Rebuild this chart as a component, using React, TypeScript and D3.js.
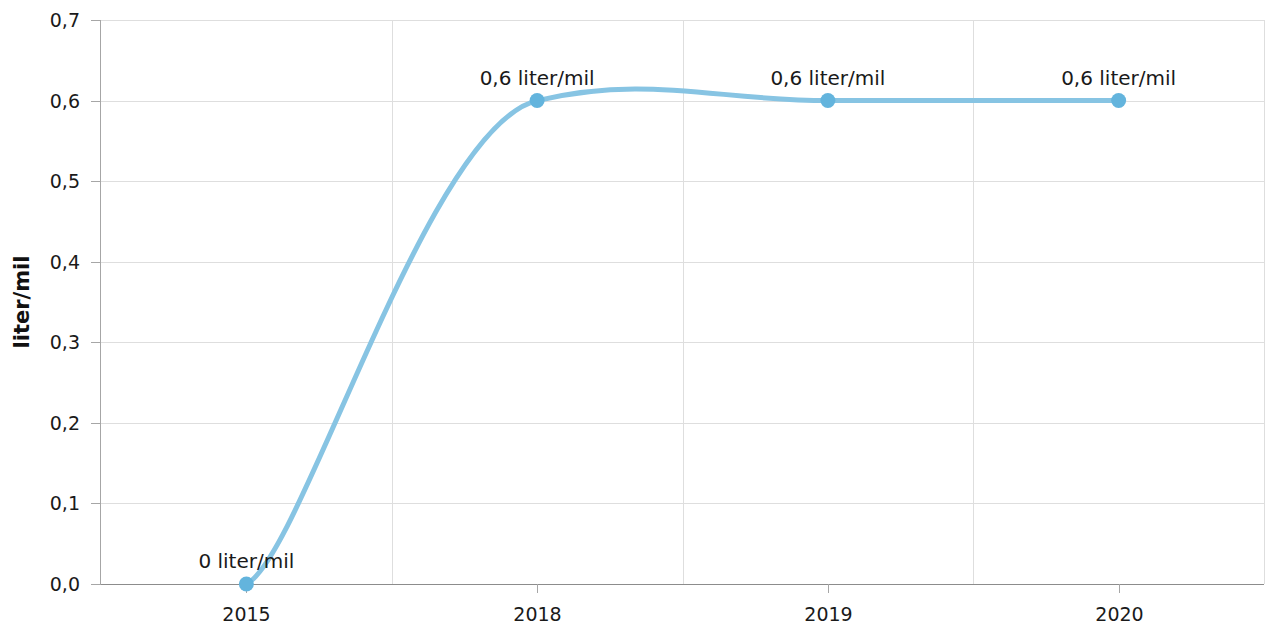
import { useMemo } from 'react'
import * as d3 from 'd3'

// chart data
const years = ['2015', '2018', '2019', '2020']
const values = [0, 0.6, 0.6, 0.6]
const yTicks = [0, 0.1, 0.2, 0.3, 0.4, 0.5, 0.6, 0.7]
const unit = 'liter/mil'

const W = 1267
const H = 626
const margin = { top: 20, right: 3, bottom: 42, left: 101 }

const fmt = (v: number, digits: number) => v.toFixed(digits).replace('.', ',')

// smoothing with separate x / y tension (spline that slightly overshoots)
function curveTensionXY(cx: number, cy: number) {
  return (context: any) => {
    let pts: [number, number][] = []
    return {
      areaStart() {},
      areaEnd() {},
      lineStart() { pts = [] },
      point(x: number, y: number) { pts.push([+x, +y]) },
      lineEnd() {
        if (!pts.length) return
        context.moveTo(pts[0][0], pts[0][1])
        for (let i = 0; i < pts.length - 1; i++) {
          const p0 = pts[Math.max(0, i - 1)]
          const p1 = pts[i]
          const p2 = pts[i + 1]
          const p3 = pts[Math.min(pts.length - 1, i + 2)]
          context.bezierCurveTo(
            p1[0] + cx * (p2[0] - p0[0]), p1[1] + cy * (p2[1] - p0[1]),
            p2[0] - cx * (p3[0] - p1[0]), p2[1] - cy * (p3[1] - p1[1]),
            p2[0], p2[1]
          )
        }
      }
    }
  }
}

export default function App() {
  const innerW = W - margin.left - margin.right
  const innerH = H - margin.top - margin.bottom

  const x = useMemo(() => d3.scaleBand<string>().domain(years).range([0, innerW]).paddingInner(0).paddingOuter(0), [innerW])
  const y = useMemo(() => d3.scaleLinear().domain([0, 0.7]).range([innerH, 0]), [innerH])
  const cxOf = (d: string) => (x(d) || 0) + x.bandwidth() / 2

  const line = d3.line<number>()
    .x((_, i) => cxOf(years[i]))
    .y(d => y(d))
    .curve(curveTensionXY(0.19, 0.054) as any)

  const bandEdges = years.map(d => x(d) || 0).slice(1).concat([innerW])
  const font = '"DejaVu Sans", Verdana, sans-serif'

  return (
    <div style={{ position: 'absolute', left: 0, top: 0 }}>
      <svg width={W} height={H} style={{ display: 'block', fontFamily: font }}>
        <rect width={W} height={H} fill="#ffffff" />
        <g transform={`translate(${margin.left},${margin.top})`}>
          {/* horizontal grid */}
          {yTicks.map(t => (
            <line key={'h' + t} x1={0} x2={innerW} y1={Math.round(y(t)) + 0.5} y2={Math.round(y(t)) + 0.5} stroke="#dedede" strokeWidth={1} />
          ))}
          {/* vertical grid between categories */}
          {bandEdges.map((e, i) => (
            <line key={'v' + i} x1={Math.round(e) + 0.5} x2={Math.round(e) + 0.5} y1={0} y2={innerH} stroke="#dedede" strokeWidth={1} />
          ))}

          {/* y axis */}
          <line x1={-0.5} x2={-0.5} y1={0} y2={innerH} stroke="#a6a6a6" />
          {yTicks.map(t => (
            <g key={'yt' + t} transform={`translate(0,${Math.round(y(t)) + 0.5})`}>
              <line x1={-10} x2={0} stroke="#a6a6a6" />
              <text x={-21} dy="0.35em" textAnchor="end" fontSize={19} fill="#1a1a1a">{fmt(t, 1)}</text>
            </g>
          ))}

          {/* x axis */}
          <line x1={0} x2={innerW} y1={innerH + 0.5} y2={innerH + 0.5} stroke="#8c8c8c" />
          {years.map(d => (
            <g key={'xt' + d} transform={`translate(${Math.round(cxOf(d)) + 0.5},${innerH})`}>
              <line y1={0} y2={9} stroke="#a6a6a6" />
              <text y={37} textAnchor="middle" fontSize={19} fill="#1a1a1a">{d}</text>
            </g>
          ))}

          {/* series */}
          <path d={line(values) || ''} fill="none" stroke="#87c4e3" strokeWidth={5} strokeLinecap="round" />
          {values.map((v, i) => (
            <circle key={'p' + i} cx={cxOf(years[i])} cy={y(v)} r={7.5} fill="#63b4dd" />
          ))}
          {values.map((v, i) => (
            <text key={'l' + i} x={cxOf(years[i])} y={y(v) - 16} textAnchor="middle" fontSize={20} fill="#1a1a1a">
              {`${v === 0 ? '0' : fmt(v, 1)} ${unit}`}
            </text>
          ))}
        </g>

        {/* y axis title */}
        <text transform={`translate(29,${margin.top + innerH / 2}) rotate(-90)`} textAnchor="middle" fontSize={21} fontWeight="bold" fill="#111">
          {unit}
        </text>
      </svg>
    </div>
  )
}
